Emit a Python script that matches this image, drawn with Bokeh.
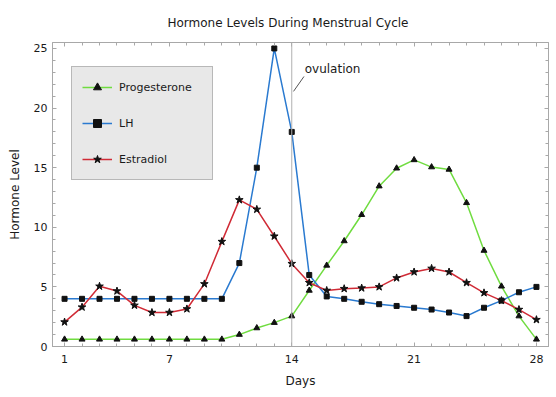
from bokeh.plotting import figure
from bokeh.models import (Range1d, FixedTicker, LinearAxis, Span, Label,
                          CustomJSTickFormatter)
from bokeh.embed import file_html
from bokeh.resources import INLINE

days = list(range(1, 29))
progesterone = [0.6, 0.6, 0.6, 0.6, 0.6, 0.6, 0.6, 0.6, 0.6, 0.6,
                1.0, 1.55, 2.0, 2.55, 4.7, 6.8, 8.85, 11.05, 13.45, 14.95,
                15.65, 15.05, 14.85, 12.05, 8.05, 5.05, 2.55, 0.6]
lh = [4.0, 4.0, 4.0, 4.0, 4.0, 4.0, 4.0, 4.0, 4.0, 4.0,
      7.0, 15.0, 25.0, 18.0, 6.0, 4.2, 4.0, 3.75, 3.55, 3.4,
      3.25, 3.1, 2.85, 2.55, 3.25, 3.85, 4.55, 5.0]
estradiol = [2.05, 3.3, 5.05, 4.65, 3.45, 2.85, 2.85, 3.15, 5.25, 8.8,
             12.3, 11.5, 9.25, 6.95, 5.35, 4.7, 4.85, 4.9, 5.0, 5.75,
             6.25, 6.55, 6.25, 5.35, 4.5, 3.85, 3.1, 2.25]
x_ticks = [1, 7, 14, 21, 28]
y_ticks = [0, 5, 10, 15, 20, 25]
y_minor = list(range(0, 26))
ovulation_day = 14
ovulation_text = "ovulation"
ovulation_text_pos = (14.74, 23.3)
ovulation_leader = ((14.1, 21.4), (14.7, 22.65))

FONT = "DejaVu Sans"
TXT = "#1a1a1a"
GRAY = "#a8a8a8"

p = figure(width=556, height=397, output_backend="svg", toolbar_location=None,
           x_range=Range1d(0.31, 28.69), y_range=Range1d(0, 25.5),
           min_border_left=52, min_border_right=8, min_border_top=42, min_border_bottom=51,
           title="Hormone Levels During Menstrual Cycle")
p.title.align = "left"
p.title.offset = 115
p.title.text_font = FONT
p.title.text_font_size = "12px"
p.title.text_font_style = "normal"
p.title.text_color = TXT
p.title.standoff = 26
p.grid.visible = False
p.outline_line_color = GRAY
p.background_fill_color = "white"
p.border_fill_color = "white"

def style_axis(ax):
    ax.axis_line_color = GRAY
    ax.major_tick_line_color = GRAY
    ax.minor_tick_line_color = GRAY
    ax.major_tick_in = 4
    ax.major_tick_out = 0
    ax.minor_tick_in = 3
    ax.minor_tick_out = 0
    ax.major_label_text_font = FONT
    ax.major_label_text_font_size = "11px"
    ax.major_label_text_color = TXT
    ax.axis_label_text_font = FONT
    ax.axis_label_text_font_size = "12px"
    ax.axis_label_text_font_style = "normal"
    ax.axis_label_text_color = TXT

p.xaxis.ticker = FixedTicker(ticks=x_ticks, minor_ticks=days)
p.yaxis.ticker = FixedTicker(ticks=y_ticks, minor_ticks=y_minor)
style_axis(p.xaxis[0])
style_axis(p.yaxis[0])
p.xaxis.axis_label = "Days"
p.yaxis.axis_label = "Hormone Level"
p.xaxis.major_label_standoff = 8
p.xaxis.axis_label_standoff = 8
p.yaxis.major_label_standoff = 5
p.yaxis.axis_label_standoff = 9

blank = CustomJSTickFormatter(code="return ''")
top = LinearAxis(ticker=FixedTicker(ticks=x_ticks, minor_ticks=days), formatter=blank)
style_axis(top)
top.major_label_standoff = 0
p.add_layout(top, "above")
right = LinearAxis(ticker=FixedTicker(ticks=y_ticks, minor_ticks=y_minor), formatter=blank)
style_axis(right)
right.major_label_standoff = 0
p.add_layout(right, "right")

p.add_layout(Span(location=ovulation_day, dimension="height", line_color="#b0b0b0", line_width=1))
p.segment(x0=[ovulation_leader[0][0]], y0=[ovulation_leader[0][1]],
          x1=[ovulation_leader[1][0]], y1=[ovulation_leader[1][1]],
          line_color="#555555", line_width=1)
p.add_layout(Label(x=ovulation_text_pos[0], y=ovulation_text_pos[1], text=ovulation_text,
                   text_font=FONT, text_font_size="12px", text_color=TXT,
                   text_baseline="middle", text_align="left"))

series = [
    ("Progesterone", progesterone, "#70dc40", "triangle", 6),
    ("LH", lh, "#2a7ad0", "square", 5),
    ("Estradiol", estradiol, "#d02b36", "star", 8),
]
for name, ys, color, marker, size in series:
    p.line(days, ys, line_color=color, line_width=1.5, legend_label=name)
    p.scatter(days, ys, marker=marker, size=size, fill_color="#111111",
              line_color="#111111", legend_label=name)

lg = p.legend[0]
lg.location = (19, 166)
lg.padding = 10
lg.spacing = 16
lg.glyph_width = 30
lg.glyph_height = 20
lg.label_standoff = 7
lg.label_width = 83
lg.label_text_font = FONT
lg.label_text_font_size = "11px"
lg.label_text_color = TXT
lg.background_fill_color = "#e8e8e8"
lg.background_fill_alpha = 1
lg.border_line_color = "#888888"
lg.border_line_width = 1
lg.margin = 0

open("out.html", "w").write(file_html(p, INLINE))
